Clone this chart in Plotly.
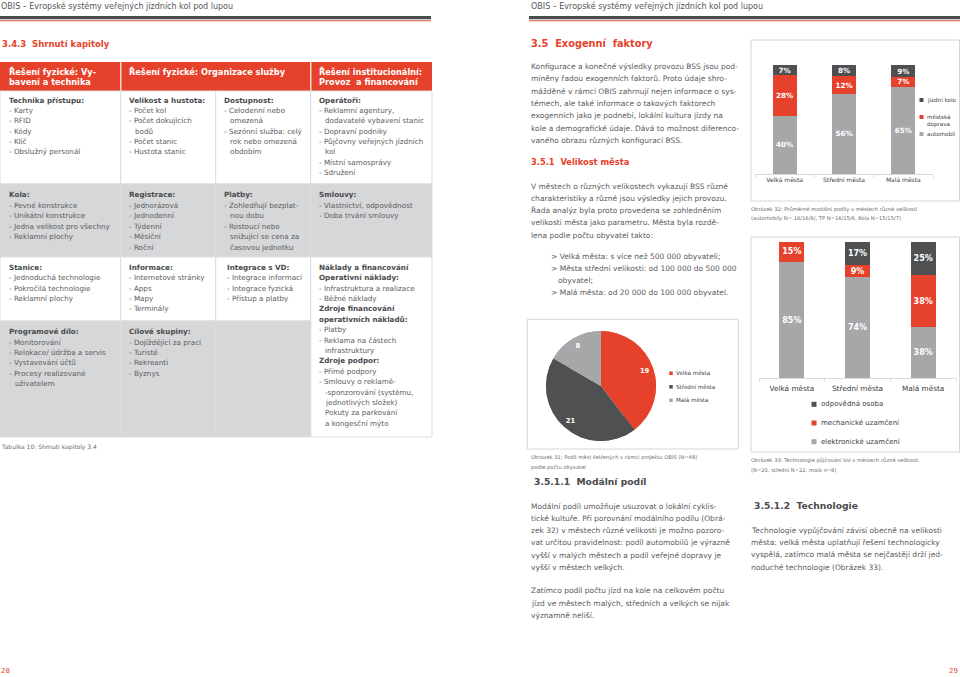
import plotly.graph_objects as go

W, H = 960, 677
FONT = "DejaVu Sans"
TXT = "#5a5b5d"
HEAD = "#4a4b4d"
RED = "#e6412b"
DARK = "#4f5052"
LIGHT = "#a6a7a9"
TGRAY = "#d6d7d9"
BORDER = "#dcdddf"
BOX = "#d6d6d6"

# ---------------- data ----------------
CITY = ["Velká města", "Střední města", "Malá města"]

PIE_VALUES = [19, 21, 8]

MODAL_AUTO = [40, 56, 65]
MODAL_TP = [28, 12, 7]
MODAL_BIKE = [7, 8, 9]
MODAL_NAMES = ["jízdní kolo", "městská doprava", "automobil"]

TECH_ELEC = [85, 74, 38]
TECH_MECH = [15, 9, 38]
TECH_PERS = [None, 17, 25]
TECH_NAMES = ["odpovědná osoba", "mechanické uzamčení", "elektronické uzamčení"]

PAGE_HEADER = "OBIS – Evropské systémy veřejných jízdních kol pod lupou"
LEFT_TITLE = "3.4.3\u00a0 Shrnutí kapitoly"
RIGHT_TITLE = "3.5\u00a0 Exogenní\u00a0 faktory"

TABLE_HEAD = [["Řešení fyzické: Vy-", "bavení a technika"],
              ["Řešení fyzické: Organizace služby"],
              ["Řešení institucionální:", "Provoz\u00a0 a financování"]]

T_R1 = [
    ["<b>Technika přístupu:</b>", "- Karty", "- RFID", "- Kódy", "- Klíč", "- Obslužný personál"],
    ["<b>Velikost a hustota:</b>", "- Počet kol", "- Počet dokujících", "  bodů", "- Počet stanic", "- Hustota stanic"],
    ["<b>Dostupnost:</b>", "- Celodenní nebo", "  omezená", "- Sezónní služba: celý", "  rok nebo omezená", "  obdobím"],
    ["<b>Operátoři:</b>", "- Reklamní agentury,", "  dodavatelé vybavení stanic", "- Dopravní podniky",
     "- Půjčovny veřejných jízdních", "  kol", "- Místní samosprávy", "- Sdružení"],
]
T_R2 = [
    ["<b>Kola:</b>", "- Pevné konstrukce", "- Unikátní konstrukce", "- Jedna velikost pro všechny", "- Reklamní plochy"],
    ["<b>Registrace:</b>", "- Jednorázová", "- Jednodenní", "- Týdenní", "- Měsíční", "- Roční"],
    ["<b>Platby:</b>", "- Zohledňují bezplat-", "  nou dobu", "- Rostoucí nebo", "  snižující se cena za", "  časovou jednotku"],
    ["<b>Smlouvy:</b>", "- Vlastnictví, odpovědnost", "- Doba trvání smlouvy"],
]
T_R3 = [
    ["<b>Stanice:</b>", "- Jednoduchá technologie", "- Pokročilá technologie", "- Reklamní plochy"],
    ["<b>Informace:</b>", "- Internetové stránky", "- Apps", "- Mapy", "- Terminály"],
    ["<b>Integrace s VD:</b>", "- Integrace informací", "- Integrace fyzická", "- Přístup a platby"],
    ["<b>Náklady a financování</b>", "<b>Operativní náklady:</b>", "- Infrastruktura a realizace", "- Běžné náklady",
     "<b>Zdroje financování</b>", "<b>operativních nákladů:</b>", "- Platby", "- Reklama na částech",
     "  infrastruktury", "<b>Zdroje podpor:</b>", "- Přímé podpory", "- Smlouvy o reklamě-",
     "  -sponzorování (systému,", "  jednotlivých složek)", "  Pokuty za parkování", "  a kongesční mýto"],
]
T_R4 = [
    ["<b>Programové dílo:</b>", "- Monitorování", "- Relokace/ údržba a servis", "- Vystavování účtů",
     "- Procesy realizované", "  uživatelem"],
    ["<b>Cílové skupiny:</b>", "- Dojíždějící za prací", "- Turisté", "- Rekreanti", "- Byznys"],
    [],
]
TABLE_CAPTION = "Tabulka 10: Shrnutí kapitoly 3.4"

P1 = ["Konfigurace a konečné výsledky provozu BSS jsou pod-",
      "míněny řadou exogenních faktorů. Proto údaje shro-",
      "mážděné v rámci OBIS zahrnují nejen informace o sys-",
      "témech, ale také informace o takových faktorech",
      "exogenních jako je podnebí, lokální kultura jízdy na",
      "kole a demografické údaje. Dává to možnost diferenco-",
      "vaného obrazu různých konfigurací BSS."]
H351 = "3.5.1\u00a0 Velikost města"
P2 = ["V městech o různých velikostech vykazují BSS různé",
      "charakteristiky a různé jsou výsledky jejich provozu.",
      "Řada analýz byla proto provedena se zohledněním",
      "velikosti města jako parametru. Města byla rozdě-",
      "lena podle počtu obyvatel takto:"]
BUL = ["> Velká města: s více než 500 000 obyvateli;",
       "> Města střední velikosti: od 100 000 do 500 000",
       "  obyvatel;",
       "> Malá města: od 20 000 do 100 000 obyvatel."]
CAP31 = ["Obrázek 31: Podíl měst šetřených v rámci projektu OBIS (N=48)", "podle počtu obyvatel"]
H3511 = "3.5.1.1\u00a0 Modální podíl"
P3 = ["Modální podíl umožňuje usuzovat o lokální cyklis-",
      "tické kultuře. Při porovnání modálního podílu (Obrá-",
      "zek 32) v městech různé velikosti je možno pozoro-",
      "vat určitou pravidelnost: podíl automobilů je výrazně",
      "vyšší v malých městech a podíl veřejné dopravy je",
      "vyšší v městech velkých."]
P4 = ["Zatímco podíl počtu jízd na kole na celkovém počtu",
      "jízd ve městech malých, středních a velkých se nijak",
      "významně neliší."]
CAP32 = ["Obrázek 32: Průměrné modální podíly v městech různé velikosti",
         "(automobily N= 16/16/6/, TP N=16/15/6, Kola N=15/15/7)"]
CAP33 = ["Obrázek 33: Technologie půjčování kol v městech různé velikosti",
         "(N=20, střední N=22, malá n=8)"]
H3512 = "3.5.1.2\u00a0 Technologie"
P5 = ["Technologie vypůjčování závisí obecně na velikosti",
      "města: velká města uplatňují řešení technologicky",
      "vyspělá, zatímco malá města se nejčastěji drží jed-",
      "noduché technologie (Obrázek 33)."]
PAGE_NUMS = ["28", "29"]

# ---------------- helpers ----------------
anns = []
shapes = []


def T(x, y, s, size, color=TXT, anchor="left"):
    anns.append(dict(x=x / W, y=1 - y / H, xref="paper", yref="paper", text=s, showarrow=False,
                     xanchor=anchor, yanchor="middle", borderpad=0,
                     font=dict(family=FONT, size=size, color=color)))


def lines(x, y0, dy, arr, size, color=TXT, indent=5.5):
    for i, s in enumerate(arr):
        dx = 0
        if s.startswith("  "):
            dx = indent
            s = s.strip()
        c = HEAD if s.startswith("<b>") else color
        T(x + dx, y0 + i * dy, s, size, c)


def R(x0, y0, x1, y1, fill=None, line=None, lw=0, layer="below"):
    shapes.append(dict(type="rect", xref="paper", yref="paper", x0=x0 / W, x1=x1 / W,
                       y0=1 - y1 / H, y1=1 - y0 / H,
                       fillcolor=fill or "rgba(0,0,0,0)",
                       line=dict(color=line or "rgba(0,0,0,0)", width=lw), layer=layer))


fig = go.Figure()

# ---------------- pie (Obrázek 31) ----------------
pie_dom = dict(x=[546 / W, 656 / W], y=[1 - 441 / H, 1 - 331 / H])
fig.add_trace(go.Pie(labels=CITY, values=PIE_VALUES, sort=False, direction="clockwise", rotation=0,
                     marker=dict(colors=[RED, DARK, LIGHT], line=dict(width=0)),
                     textinfo="none", showlegend=False, hoverinfo="skip", domain=pie_dom))
# same slices again as an outer ring, only to carry the value labels near the rim
fig.add_trace(go.Pie(labels=CITY, values=PIE_VALUES, sort=False, direction="clockwise", rotation=0,
                     hole=0.68,
                     marker=dict(colors=[RED, DARK, LIGHT], line=dict(width=0)),
                     texttemplate="<b>%{value}</b>", textposition="inside",
                     insidetextorientation="horizontal",
                     textfont=dict(family=FONT, size=6.8, color="white"),
                     showlegend=False, hoverinfo="skip", domain=pie_dom))

# ---------------- stacked bars (Obrázek 32) ----------------
for vals, col in [(MODAL_AUTO, LIGHT), (MODAL_TP, RED), (MODAL_BIKE, DARK)]:
    fig.add_trace(go.Bar(x=CITY, y=vals, marker=dict(color=col, line=dict(width=0)), width=0.4,
                         text=[f"<b>{v}%</b>" for v in vals], textposition="inside",
                         insidetextanchor="middle", textangle=0, constraintext="none",
                         textfont=dict(family=FONT, size=7.2, color="white"),
                         showlegend=False, hoverinfo="skip", xaxis="x", yaxis="y"))

# ---------------- stacked bars (Obrázek 33) ----------------
for vals, col in [(TECH_ELEC, LIGHT), (TECH_MECH, RED), (TECH_PERS, DARK)]:
    fig.add_trace(go.Bar(x=CITY, y=vals, marker=dict(color=col, line=dict(width=0)), width=0.38,
                         text=["" if v is None else f"<b>{v}%</b>" for v in vals], textposition="inside",
                         insidetextanchor="middle", textangle=0, constraintext="none",
                         textfont=dict(family=FONT, size=8, color="white"),
                         showlegend=False, hoverinfo="skip", xaxis="x2", yaxis="y2"))

# ---------------- page furniture ----------------
for x0, x1, tx in [(0, 431, 0), (529, 960, 530)]:
    R(x0, 16, x1, 19.2, fill="#4b4c4e")
    R(x0, 20.3, x1, 21.3, fill="#e0533d")
    T(tx, 5.5, PAGE_HEADER, 8, "#55565a")

T(1, 44, f"<b>{LEFT_TITLE}</b>", 8.5, RED)
T(530, 44, f"<b>{RIGHT_TITLE}</b>", 9.8, RED)

# ---------------- table ----------------
CX = [0, 120.7, 215.7, 310.7, 432]
RY = [91, 184, 257, 321, 437]
R(0, 62, 432, 91, fill=RED)
R(120.2, 62, 121.4, 91, fill="white")
R(310.2, 62, 311.4, 91, fill="white")
for r in range(4):
    for c in range(4):
        if c == 3 and r == 3:
            continue
        fill = "white" if r in (0, 2) else TGRAY
        y1 = RY[r + 1]
        if c == 3 and r == 2:
            y1 = RY[4]
        R(CX[c], RY[r], CX[c + 1], y1, fill=fill, line=BORDER, lw=1)

hx = [8, 128, 318]
for i, hl in enumerate(TABLE_HEAD):
    for j, s in enumerate(hl):
        T(hx[i], 71 + j * 10.6, f"<b>{s}</b>", 8.2, "white")

colx = [8, 128, 223, 318]
for rows, y0 in [(T_R1, 100), (T_R2, 195), (T_R3, 267.3), (T_R4, 331.7)]:
    for c, cell in enumerate(rows):
        x = colx[c] + (2.5 if (rows is T_R3 and c == 2) else 0)
        lines(x, y0, 10.4, cell, 7.2)

T(0, 447, TABLE_CAPTION, 6, "#6a6b6d")

# ---------------- right page text ----------------
lines(530, 66.7, 12.3, P1, 7.5)
T(530, 162, f"<b>{H351}</b>", 8.3, RED)
lines(530, 186, 12.3, P2, 7.5)
lines(550, 256, 12.3, BUL, 7.5, indent=7)
lines(530, 457, 10.3, CAP31, 5.2, "#6a6b6d")
T(533, 481.5, f"<b>{H3511}</b>", 9.2, HEAD)
lines(530, 506, 12.3, P3, 7.5)
lines(530, 590.7, 12.3, P4, 7.5)
lines(750, 209, 9.5, CAP32, 5.2, "#6a6b6d")
lines(750, 460, 10, CAP33, 5.2, "#6a6b6d")
T(753, 505, f"<b>{H3512}</b>", 9.2, HEAD)
lines(750, 530, 12.4, P5, 7.5)
T(0, 671, PAGE_NUMS[0], 7, RED)
T(959, 671, PAGE_NUMS[1], 7, RED, anchor="right")

# ---------------- chart boxes ----------------
R(751, 40, 959.5, 201, line=BOX, lw=1)
R(527.3, 319.3, 738.3, 449, line=BOX, lw=1)
R(751, 237, 959.5, 452, line=BOX, lw=1)

# ---------------- legends ----------------
def key(cx, cy, s, col):
    R(cx - s / 2, cy - s / 2, cx + s / 2, cy + s / 2, fill=col, layer="above")

# chart 32
key(921.5, 100, 4, DARK)
T(925.5, 100, MODAL_NAMES[0], 5.6, "#404040")
key(921.5, 117, 4, RED)
T(925.5, 117, "městská", 5.6, "#404040")
T(925.5, 124.5, "doprava", 5.6, "#404040")
key(921.5, 134, 4, LIGHT)
T(925.5, 134, MODAL_NAMES[2], 5.6, "#404040")
# chart 33
for i, (nm, col) in enumerate(zip(TECH_NAMES, [DARK, RED, LIGHT])):
    key(814, 404.3 + i * 18.7, 5, col)
    T(820, 404.3 + i * 18.7, nm, 7, "#404040")
# pie
for i, (nm, col) in enumerate(zip(CITY, [RED, DARK, LIGHT])):
    key(671, 373.3 + i * 13.5, 3.5, col)
    T(674.5, 373.3 + i * 13.5, nm, 5.6, "#404040")

axis_common = dict(showgrid=False, zeroline=False, ticks="outside", tickson="boundaries", ticklen=3,
                   tickcolor="#dddddd", showline=True, linecolor="#d9d9d9",
                   linewidth=1, fixedrange=True, type="category")
fig.update_layout(
    width=W, height=H, margin=dict(l=0, r=0, t=0, b=0),
    paper_bgcolor="white", plot_bgcolor="rgba(0,0,0,0)",
    barmode="stack", barnorm="percent", showlegend=False,
    font=dict(family=FONT, color=TXT),
    xaxis=dict(domain=[755 / W, 933 / W], anchor="y", tickfont=dict(family=FONT, size=6, color="#3a3a3a"),
               ticklabelstandoff=0, **axis_common),
    yaxis=dict(domain=[1 - 174 / H, 1 - 65 / H], anchor="x", range=[0, 100], visible=False, fixedrange=True),
    xaxis2=dict(domain=[759 / W, 956 / W], anchor="y2", tickfont=dict(family=FONT, size=7.3, color="#3a3a3a"),
                ticklabelstandoff=3, **axis_common),
    yaxis2=dict(domain=[1 - 378 / H, 1 - 241.7 / H], anchor="x2", range=[0, 100], visible=False,
                fixedrange=True),
    annotations=anns, shapes=shapes,
)

fig.write_html("out.html", include_plotlyjs=True, full_html=True, config={"displayModeBar": False},
               post_script="document.body.style.margin='0';document.body.style.overflow='hidden';")
